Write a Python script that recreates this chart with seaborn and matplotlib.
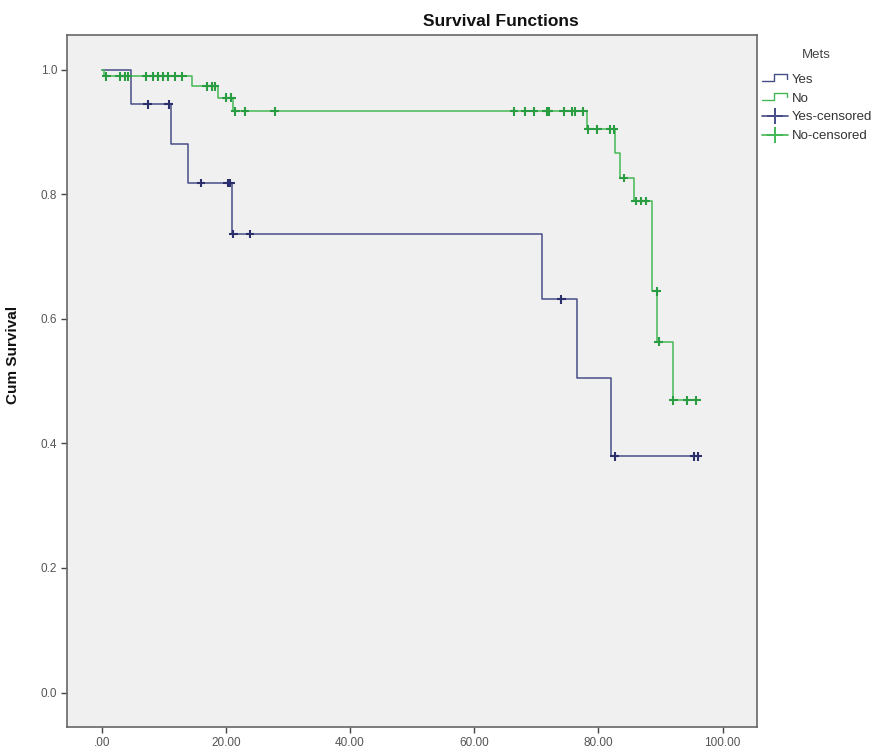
import numpy as np
import pandas as pd
import matplotlib
matplotlib.use("Agg")
import matplotlib.pyplot as plt
from matplotlib.lines import Line2D
from matplotlib.legend_handler import HandlerBase
import seaborn as sns

# Kaplan-Meier steps, group "Yes"
yes_time = [0, 4.7, 11.1, 13.9, 21.0, 70.9, 76.5, 82.1, 96.0]
yes_surv = [1.0, 0.944, 0.881, 0.818, 0.736, 0.631, 0.505, 0.379, 0.379]
yes_cens = [7.4, 10.8, 16.0, 20.3, 20.7, 21.2, 23.9, 74.0, 82.6, 95.4, 96.0]

# group "No"
no_time = [0, 0.4, 14.6, 18.8, 21.2, 78.1, 82.7, 83.5, 85.7, 88.7, 89.5, 92.0, 96.0]
no_surv = [1.0, 0.989, 0.973, 0.955, 0.933, 0.904, 0.866, 0.826, 0.789,
           0.644, 0.563, 0.469, 0.469]
no_cens = [0.75, 2.9, 3.7, 4.2, 7.2, 8.3, 9.1, 9.9, 10.7, 11.8, 13.0,
           16.9, 17.7, 18.2, 20.1, 20.9, 21.5, 23.1, 27.9,
           66.4, 68.2, 69.6, 71.7, 72.0, 74.4, 75.7, 76.3, 77.6,
           78.4, 79.8, 81.9, 82.5, 84.1, 86.0, 86.8, 87.6, 89.4, 89.7,
           92.1, 94.3, 95.8]

xticks = [0, 20, 40, 60, 80, 100]
xtick_labels = ['.00', '20.00', '40.00', '60.00', '80.00', '100.00']
yticks = [0.0, 0.2, 0.4, 0.6, 0.8, 1.0]

yes_col = '#474d88'
no_col = '#45b855'


def surv_at(times, surv, t):
    i = np.searchsorted(times, t, side='right') - 1
    return np.asarray(surv)[i]


steps = pd.concat([
    pd.DataFrame({'time': yes_time, 'surv': yes_surv, 'Mets': 'Yes'}),
    pd.DataFrame({'time': no_time, 'surv': no_surv, 'Mets': 'No'}),
])
cens = pd.concat([
    pd.DataFrame({'time': yes_cens, 'surv': surv_at(yes_time, yes_surv, yes_cens),
                  'Mets': 'Yes'}),
    pd.DataFrame({'time': no_cens, 'surv': surv_at(no_time, no_surv, no_cens),
                  'Mets': 'No'}),
])

sns.set_theme(style='ticks')
plt.rcParams['font.family'] = ['Liberation Sans', 'DejaVu Sans']

fig = plt.figure(figsize=(8.92, 7.54), dpi=100)
ax = fig.add_axes([0.075, 0.036, 0.774, 0.918])
ax.set_facecolor('#f0f0f0')

pal = {'Yes': yes_col, 'No': no_col}
sns.lineplot(data=steps, x='time', y='surv', hue='Mets', palette=pal,
             drawstyle='steps-post', linewidth=1.1, legend=False, ax=ax,
             estimator=None, sort=False)
sns.scatterplot(data=cens, x='time', y='surv', hue='Mets',
                palette={'Yes': '#2b2f6b', 'No': '#2a9c42'},
                marker='+', s=40, linewidth=1.5, legend=False, ax=ax, zorder=3)

ax.set_xlim(-5.6, 105.6)
ax.set_ylim(-0.055, 1.056)
ax.set_xticks(xticks)
ax.set_xticklabels(xtick_labels)
ax.set_yticks(yticks)
ax.set_yticklabels([f'{v:.1f}' for v in yticks])
ax.tick_params(labelsize=8.5, colors='#444444', length=4, width=1, pad=3)
ax.tick_params(axis='both', labelcolor='#555555')
for s in ax.spines.values():
    s.set_color('#666666')
    s.set_linewidth(1.2)

ax.set_xlabel('')
ax.set_ylabel('Cum Survival', fontsize=11, fontweight='bold', color='#111111')
ax.yaxis.set_label_coords(-0.068, 0.537)

fig.text(0.562, 0.972, 'Survival Functions', ha='center', va='center',
         fontsize=12.5, fontweight='bold', color='#111111')


class StepHandler(HandlerBase):
    def create_artists(self, legend, orig_handle, xdescent, ydescent,
                       width, height, fontsize, trans):
        xs = np.array([0, 0.45, 0.45, 0.95, 0.95]) * width - xdescent
        ys = np.array([0.15, 0.15, 0.95, 0.95, 0.45]) * height - ydescent
        ln = Line2D(xs, ys, color=orig_handle.get_color(), lw=1.0)
        ln.set_transform(trans)
        return [ln]


h_yes = Line2D([], [], color=yes_col)
h_no = Line2D([], [], color=no_col)
h_yc = Line2D([], [], color=yes_col, marker='+', markersize=12, mew=1.4, lw=1.2)
h_nc = Line2D([], [], color=no_col, marker='+', markersize=12, mew=1.4, lw=1.2)

leg = fig.legend([h_yes, h_no, h_yc, h_nc],
                 ['Yes', 'No', 'Yes-censored', 'No-censored'],
                 title='Mets', loc='upper left', bbox_to_anchor=(0.848, 0.942),
                 frameon=False, fontsize=9.5, title_fontsize=9.5,
                 handler_map={h_yes: StepHandler(), h_no: StepHandler()},
                 handlelength=2.0, handletextpad=0.25, labelspacing=0.5,
                 borderaxespad=0)
leg._legend_box.sep = 9
for t in leg.get_texts():
    t.set_color('#333333')
leg.get_title().set_color('#444444')

fig.savefig('out.png', dpi=100)
